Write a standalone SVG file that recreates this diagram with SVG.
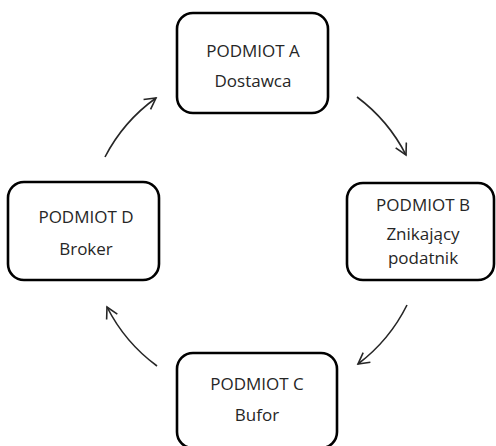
<svg xmlns="http://www.w3.org/2000/svg" width="496" height="446" viewBox="0 0 496 446">
<style>
.box{fill:#fff;stroke:#000;stroke-width:2.6}
.t{font-family:"Open Sans","Liberation Sans",Arial,sans-serif;font-size:17px;fill:#262626;text-anchor:middle}
.arr{fill:none;stroke:#262626;stroke-width:1.6;marker-end:url(#ah)}
</style>
<defs>
<marker id="ah" viewBox="0 0 14 14" refX="12" refY="7" markerWidth="14" markerHeight="14" markerUnits="userSpaceOnUse" orient="auto">
<path d="M1,1 L12,7 L1,13" fill="none" stroke="#262626" stroke-width="1.6"/>
</marker>
</defs>
<rect width="496" height="446" fill="#fff"/>
<g id="connectors">
<path class="arr" d="M105,157 A167,167 0 0 1 156,98"/>
<path class="arr" d="M357,97 A167,167 0 0 1 406,155"/>
<path class="arr" d="M407,305 A167,167 0 0 1 358,364"/>
<path class="arr" d="M157,366 A167,167 0 0 1 107,307"/>
</g>
<g id="nodeA">
<rect class="box" x="177" y="13" width="151" height="100" rx="16"/>
<text class="t" x="253" y="57">PODMIOT A</text>
<text class="t" x="253" y="87">Dostawca</text>
</g>
<g id="nodeB">
<rect class="box" x="347" y="183" width="147" height="97" rx="16"/>
<text class="t" x="423" y="211">PODMIOT B</text>
<text class="t" x="423" y="240">Znikający</text>
<text class="t" x="423" y="264">podatnik</text>
</g>
<g id="nodeC">
<rect class="box" x="177" y="353" width="160" height="95" rx="16"/>
<text class="t" x="257" y="390">PODMIOT C</text>
<text class="t" x="257" y="421">Bufor</text>
</g>
<g id="nodeD">
<rect class="box" x="8" y="182" width="151" height="98" rx="16"/>
<text class="t" x="86" y="223">PODMIOT D</text>
<text class="t" x="86" y="255">Broker</text>
</g>
</svg>
